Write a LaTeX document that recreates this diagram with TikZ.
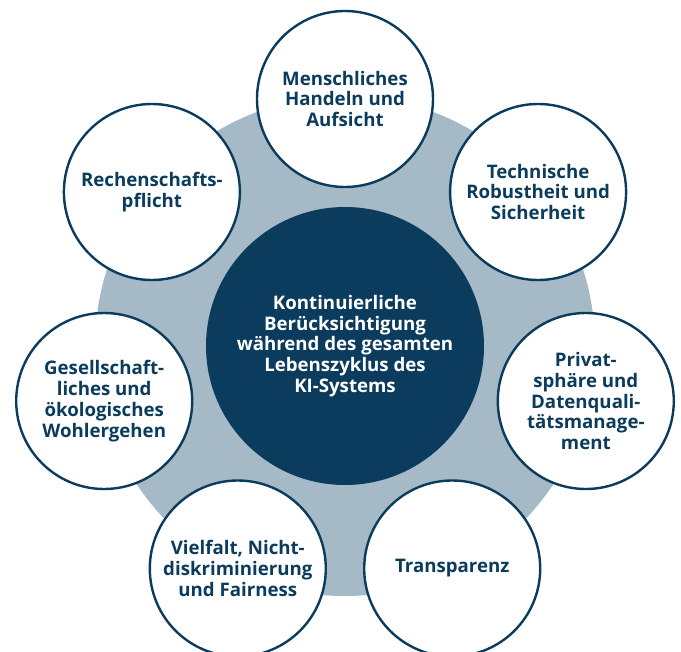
\documentclass[tikz,border=0pt]{standalone}
\usepackage{fontspec}
\setmainfont{Open Sans}

\definecolor{navy}{RGB}{11,60,93}
\definecolor{ringgray}{RGB}{165,185,198}

\tikzset{
	label font/.style={font=\bfseries\fontsize{14}{15.6}\selectfont},
	petal/.style={circle, draw=navy, line width=1.8pt, fill=white, minimum size=132pt, inner sep=0pt, align=center, text=navy, label font},
	hub/.style={circle, fill=navy, minimum size=208.5pt, inner sep=0pt, align=center, text=white, label font},
}

\begin{document}
\begin{tikzpicture}[x=0.75pt,y=0.75pt,yscale=-1,xscale=1]
		%set diagram to 681 x 652
		\useasboundingbox (0,0) rectangle (681,652);
		\clip (0,0) rectangle (681,652);
		
		\node (ring) [circle, fill=ringgray, minimum size=375pt, inner sep=0pt] at (345,346) {};
		\node (core) [hub] at (345,346) {Kontinuierliche\\Berücksichtigung\\während des gesamten\\Lebenszyklus des\\KI-Systems};
		
		\node (aufsicht) [petal] at (345,99) {Menschliches\\Handeln und\\Aufsicht};
		\node (robust) [petal] at (538.1,192) {Technische\\Robustheit und\\Sicherheit};
		\node (daten) [petal] at (585.8,401) {Privat-\\sphäre und\\Datenquali-\\tätsmanage-\\ment};
		\node (transparenz) [petal] at (452.2,568.5) {Transparenz};
		\node (fairness) [petal] at (237.8,568.5) {Vielfalt, Nicht-\\diskriminierung\\und Fairness};
		\node (wohl) [petal] at (104.2,401) {Gesellschaft-\\liches und\\ökologisches\\Wohlergehen};
		\node (pflicht) [petal] at (151.9,192) {Rechenschafts-\\pflicht};
		
\end{tikzpicture}
\end{document}
